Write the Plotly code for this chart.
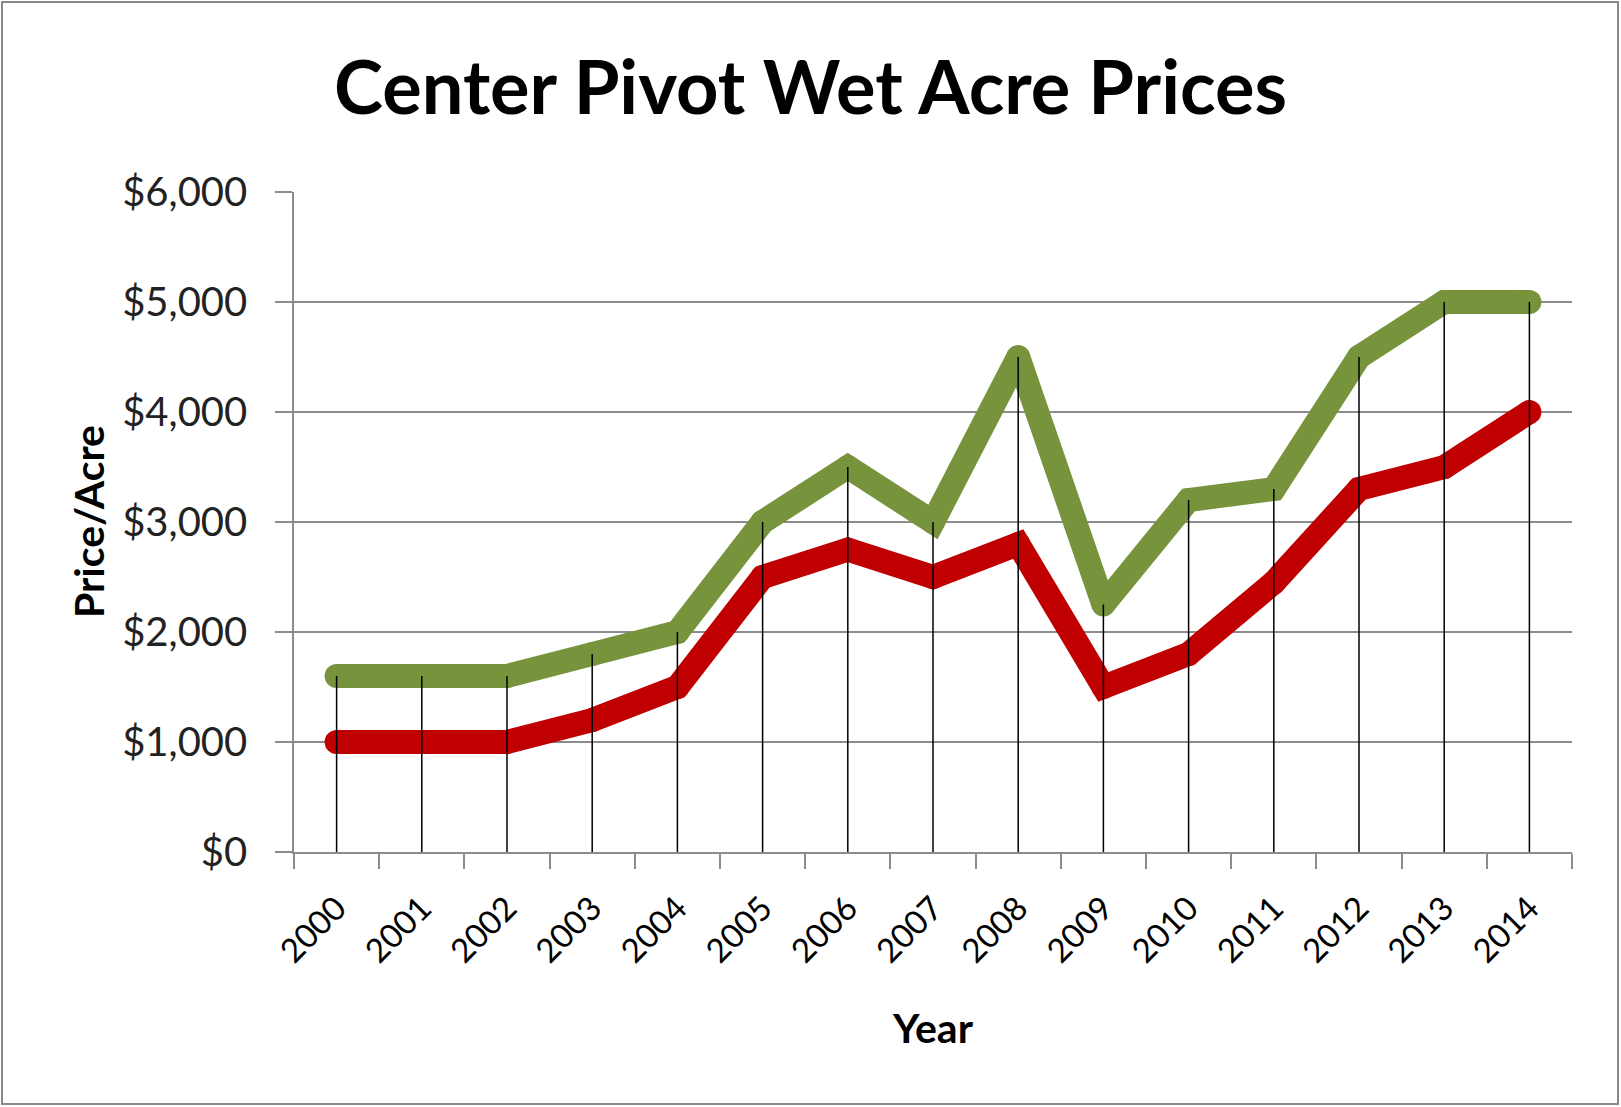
import plotly.graph_objects as go

years = [str(y) for y in range(2000, 2015)]
high_prices = [1600, 1600, 1600, 1800, 2000, 3000, 3500, 3000, 4500, 2250, 3200, 3300, 4500, 5000, 5000]
low_prices = [1000, 1000, 1000, 1200, 1500, 2500, 2750, 2500, 2800, 1500, 1800, 2450, 3300, 3500, 4000]
y_ticks = [0, 1000, 2000, 3000, 4000, 5000, 6000]

GREEN = "#77933C"
RED = "#C00000"
GRID = "#8C8C8C"
FONT = "Lato"

W, H = 1621, 1107
ML, MR, MT, MB = 294, 49, 192, 255
PW, PH = W - ML - MR, H - MT - MB

fig = go.Figure()
fig.add_trace(go.Scatter(x=years, y=high_prices, mode="lines+markers",
                         line=dict(color=GREEN, width=24),
                         marker=dict(color=GREEN, size=24), showlegend=False))
fig.add_trace(go.Scatter(x=years, y=low_prices, mode="lines+markers",
                         line=dict(color=RED, width=24),
                         marker=dict(color=RED, size=24), showlegend=False))

# drop lines from the top series down to the axis
dx, dy = [], []
for yr, v in zip(years, high_prices):
    dx += [yr, yr, None]
    dy += [0, v, None]
fig.add_trace(go.Scatter(x=dx, y=dy, mode="lines",
                         line=dict(color="black", width=1.5), showlegend=False))

fig.update_layout(
    width=W, height=H,
    margin=dict(l=ML, r=MR, t=MT, b=MB),
    paper_bgcolor="white", plot_bgcolor="white",
    font=dict(family=FONT, color="black"),
    title=dict(text="<b>Center Pivot Wet Acre Prices</b>", font=dict(family=FONT, size=74, color="black"),
               x=0.5, xref="container", xanchor="center",
               y=1 - 88 / H, yref="container", yanchor="middle"),
    xaxis=dict(type="category", range=[-0.5, 14.5], showgrid=False,
               showline=True, linecolor=GRID, linewidth=1.5,
               ticks="outside", tickson="boundaries", ticklen=15, tickcolor=GRID, tickwidth=1.5,
               tickangle=-45, tickfont=dict(family=FONT, size=33, color="black"),
               ticklabelstandoff=22),
    yaxis=dict(range=[0, 6000], tickvals=y_ticks, tickformat="$,.0f",
               showgrid=True, gridcolor=GRID, gridwidth=1.5,
               showline=True, linecolor=GRID, linewidth=1.5, zeroline=False,
               ticks="outside", ticklen=17, tickcolor=GRID, tickwidth=1.5,
               tickfont=dict(family=FONT, size=40, color="#222222"),
               ticklabelstandoff=20),
    annotations=[
        dict(text="<b>Price/Acre</b>", textangle=-90, xref="paper", yref="paper",
             x=(88 - ML) / PW, y=0.5, xanchor="center", yanchor="middle", showarrow=False,
             font=dict(family=FONT, size=41, color="black")),
        dict(text="<b>Year</b>", xref="paper", yref="paper",
             x=0.5, y=(MT + PH - 1027) / PH, xanchor="center", yanchor="middle", showarrow=False,
             font=dict(family=FONT, size=41, color="black")),
    ],
    shapes=[dict(type="rect", xref="paper", yref="paper",
                 x0=(2 - ML) / PW, x1=(W - 3 - ML) / PW,
                 y0=(MT + PH - (H - 3)) / PH, y1=(MT + PH - 2) / PH,
                 line=dict(color="#888888", width=2), fillcolor="rgba(0,0,0,0)", layer="below")],
)

fig.write_html("out.html", config={"displayModeBar": False},
               post_script="document.body.style.margin='0';document.body.style.overflow='hidden';")
